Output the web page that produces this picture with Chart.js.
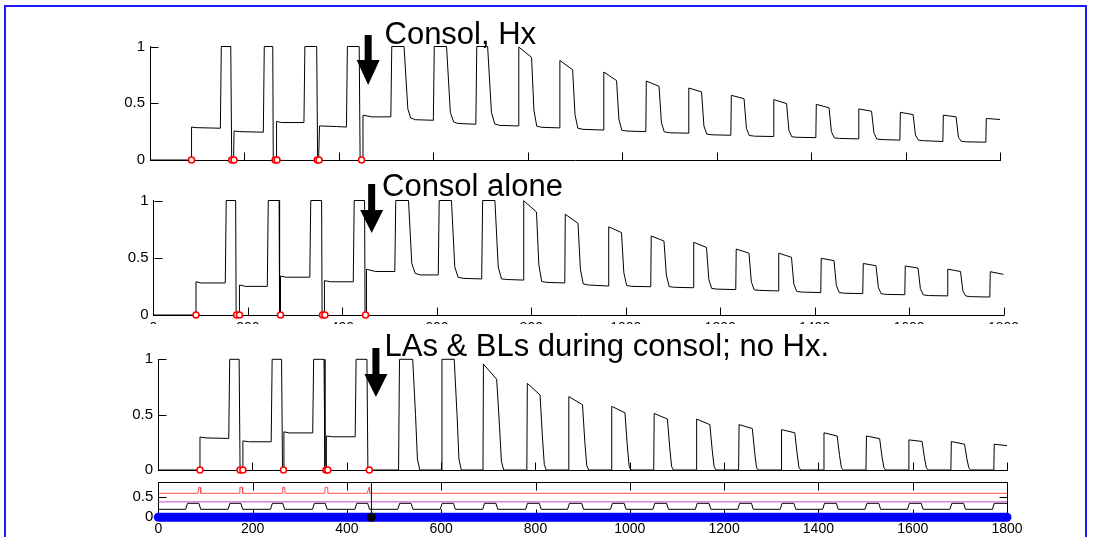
<!DOCTYPE html>
<html>
<head>
<meta charset="utf-8" />
<title>Consolidation traces</title>
<script src="https://cdn.jsdelivr.net/npm/chart.js@4.4.1/dist/chart.umd.min.js"></script>
<style>
  html, body { margin: 0; padding: 0; background: #fff; }
  body { width: 1103px; height: 537px; position: relative; overflow: hidden; font-family: "Liberation Sans", Arial, sans-serif; }
  .frame { position: absolute; left: 4px; top: 5px; width: 1083px; height: 600px; border: 2px solid #1c1cff; box-sizing: border-box; }
  .panel { position: absolute; overflow: hidden; }
  .panel canvas { position: absolute; left: 0; top: 0; }
  .title { position: absolute; font-size: 31px; line-height: 31px; color: #000; white-space: nowrap; }
</style>
</head>
<body>
<div class="frame"></div>
<div class="panel" style="left:80px;top:10px;width:950px;height:175px"><canvas id="c1" width="950" height="175"></canvas></div>
<div class="panel" style="left:80px;top:168px;width:950px;height:156px"><canvas id="c2" width="950" height="180"></canvas></div>
<div class="panel" style="left:80px;top:324px;width:950px;height:160px;background:#fff"><canvas id="c3" width="950" height="160"></canvas></div>
<div class="panel" style="left:80px;top:466px;width:950px;height:71px"><canvas id="c4" width="950" height="71"></canvas></div>
<div class="title" style="left:384.5px;top:17.8px">Consol, Hx</div>
<div class="title" style="left:382px;top:170.3px">Consol alone</div>
<div class="title" style="left:384.5px;top:330.3px">LAs &amp; BLs during consol; no Hx.</div>
<script>
// time axis ticks, shared by all four panels
const timeTicks = [0, 200, 400, 600, 800, 1000, 1200, 1400, 1600, 1800];
const traceTicks = [0, 0.5, 1];
const stimTicks = [0, 0.5];

// panel 1: consolidation with Hx
const hxTrace = [
  [0,0],[88,0],[88,0.29],[98,0.285],[149,0.28],[151,1],[171,1],[173,0],[177,0],
  [178,0.255],[190,0.25],[240,0.245],[242,1],[260,1],[261,0],[267,0],
  [268,0.34],[278,0.33],[326,0.33],[328,1],[353,1],[355,0],[357,0],
  [359,0.30],[395,0.295],[416,0.29],[418,1],[443,1],[445,0],[449,0],
  [451,0.395],[470,0.38],[510,0.38],[512,1],[538,1],[546,0.45],[552,0.37],[562,0.355],[600,0.35],
  [602,1],[628,1],[636,0.42],[643,0.335],[652,0.322],[690,0.315],
  [692,1],[715,1],[723,0.42],[730,0.318],[740,0.305],[780,0.30],
  [781,0.995],[808,0.905],[813,0.44],[819,0.298],[830,0.288],[867,0.283],
  [868,0.877],[895,0.795],[900,0.40],[906,0.28],[917,0.27],[960,0.264],
  [961,0.775],[988,0.70],[993,0.36],[999,0.262],[1010,0.255],[1050,0.25],
  [1051,0.696],[1078,0.649],[1083,0.33],[1089,0.248],[1100,0.24],[1140,0.236],
  [1141,0.634],[1168,0.60],[1173,0.30],[1179,0.228],[1190,0.222],[1230,0.218],
  [1231,0.57],[1258,0.54],[1263,0.28],[1269,0.216],[1280,0.21],[1320,0.207],
  [1321,0.532],[1348,0.497],[1353,0.26],[1359,0.205],[1370,0.2],[1410,0.197],
  [1411,0.49],[1438,0.46],[1443,0.25],[1449,0.195],[1460,0.19],[1500,0.186],
  [1501,0.45],[1528,0.43],[1533,0.24],[1539,0.185],[1550,0.18],[1588,0.175],
  [1589,0.42],[1616,0.40],[1621,0.22],[1627,0.175],[1638,0.17],[1679,0.163],
  [1680,0.395],[1707,0.38],[1712,0.2],[1718,0.165],[1729,0.16],[1770,0.157],
  [1771,0.366],[1800,0.357]
];
const hxMarks = [88, 173, 178, 265, 269, 354, 358, 448];

// panel 2: consolidation alone
const aloneTrace = [
  [0,0],[90,0],[90,0.29],[100,0.28],[152,0.28],[154,1],[174,1],[175,0],[182,0],
  [182,0.262],[195,0.25],[241,0.25],[243,1],[266,1],[267,0],[269,0],
  [269,0.34],[280,0.33],[331,0.33],[333,1],[356,1],[357,0],[362,0],
  [362,0.30],[375,0.29],[423,0.29],[425,1],[447,1],[448,0],[451,0],
  [451,0.40],[470,0.38],[511,0.38],[513,1],[540,1],[547,0.45],[554,0.364],[565,0.35],[603,0.35],
  [605,1],[631,1],[638,0.42],[645,0.33],[656,0.32],[695,0.315],
  [697,1],[723,1],[730,0.42],[737,0.315],[748,0.31],[783,0.305],
  [784,0.998],[811,0.90],[816,0.44],[822,0.293],[833,0.285],[871,0.28],
  [872,0.88],[899,0.80],[904,0.40],[910,0.272],[921,0.262],[963,0.253],
  [964,0.77],[991,0.72],[996,0.37],[1002,0.258],[1013,0.25],[1053,0.247],
  [1054,0.69],[1081,0.646],[1086,0.35],[1092,0.248],[1103,0.242],[1143,0.238],
  [1144,0.635],[1171,0.59],[1176,0.31],[1182,0.232],[1193,0.226],[1233,0.222],
  [1234,0.576],[1261,0.54],[1266,0.29],[1272,0.22],[1283,0.215],[1323,0.21],
  [1324,0.54],[1351,0.504],[1356,0.27],[1362,0.207],[1373,0.2],[1413,0.196],
  [1414,0.495],[1441,0.475],[1446,0.26],[1452,0.196],[1463,0.19],[1502,0.187],
  [1503,0.45],[1530,0.43],[1535,0.24],[1541,0.186],[1552,0.18],[1591,0.177],
  [1592,0.428],[1619,0.41],[1624,0.23],[1630,0.176],[1641,0.17],[1681,0.167],
  [1682,0.40],[1709,0.38],[1714,0.21],[1720,0.166],[1731,0.16],[1771,0.157],
  [1772,0.378],[1800,0.355]
];
const aloneMarks = [90, 176, 182, 269, 358, 363, 449];

// panel 3: LAs & BLs during consolidation, no Hx
const lasTrace = [
  [0,0],[89,0],[89,0.298],[100,0.29],[150,0.285],[152,1],[172,1],[174,0],[180,0],
  [180,0.263],[192,0.255],[240,0.255],[242,1],[262,1],[264,0],[267,0],
  [267,0.345],[278,0.335],[328,0.335],[330,1],[352,1],[354,0],[357,0],
  [357,0.307],[370,0.30],[418,0.30],[420,1],[443,1],[445,0],[510,0],
  [512,1],[540,1],[546,0.5],[550,0.1],[555,0],[600,0],
  [602,1],[628,1],[634,0.5],[638,0.1],[643,0],[689,0],
  [690,0.956],[718,0.82],[724,0.4],[728,0.08],[733,0],[782,0],
  [783,0.783],[810,0.678],[815,0.3],[819,0.05],[823,0],[870,0],
  [871,0.663],[900,0.59],[905,0.25],[909,0.04],[913,0],[961,0],
  [962,0.575],[990,0.517],[995,0.22],[999,0.03],[1003,0],[1051,0],
  [1052,0.511],[1080,0.46],[1085,0.2],[1089,0.03],[1093,0],[1141,0],
  [1142,0.46],[1170,0.41],[1175,0.18],[1179,0.03],[1183,0],[1231,0],
  [1232,0.41],[1260,0.374],[1265,0.16],[1269,0.02],[1273,0],[1321,0],
  [1322,0.365],[1350,0.336],[1355,0.15],[1359,0.02],[1363,0],[1411,0],
  [1412,0.336],[1440,0.307],[1445,0.13],[1449,0.02],[1453,0],[1501,0],
  [1502,0.307],[1530,0.283],[1535,0.12],[1539,0.02],[1543,0],[1591,0],
  [1592,0.272],[1620,0.258],[1625,0.11],[1629,0.02],[1633,0],[1681,0],
  [1682,0.257],[1710,0.233],[1715,0.1],[1719,0.02],[1723,0],[1772,0],
  [1773,0.233],[1800,0.22]
];
const lasMarks = [89, 174, 180, 266, 356, 360, 448];

// panel 4: stimulus channels
const pulseTrace = [
  [0,0.6],[84,0.6],[86,0.75],[89,0.75],[90,0.6],[172,0.6],[173,0.75],[178,0.75],[179,0.6],
  [263,0.6],[264,0.75],[268,0.75],[269,0.6],[353,0.6],[354,0.75],[359,0.75],[360,0.6],
  [443,0.6],[447,0.75],[448,0.6],[1800,0.6]
];
const levelTrace = [[0,0.385],[1800,0.385]];
const csTrace = [
  [0,0.2],[58,0.2],[62,0.35],[86,0.35],[90,0.2],[148,0.2],[152,0.35],[175,0.35],[179,0.2],
  [238,0.2],[242,0.35],[264,0.35],[268,0.2],[327,0.2],[331,0.35],[354,0.35],[358,0.2],
  [417,0.2],[421,0.35],[444,0.35],[448,0.2],[508,0.2],[512,0.35],[536,0.35],[540,0.2],
  [598,0.2],[602,0.35],[626,0.35],[630,0.2],[688,0.2],[692,0.35],[716,0.35],[720,0.2],
  [779,0.2],[783,0.35],[808,0.35],[812,0.2],[868,0.2],[872,0.35],[898,0.35],[902,0.2],
  [959,0.2],[963,0.35],[988,0.35],[992,0.2],[1049,0.2],[1053,0.35],[1078,0.35],[1082,0.2],
  [1139,0.2],[1143,0.35],[1168,0.35],[1172,0.2],[1229,0.2],[1233,0.35],[1258,0.35],[1262,0.2],
  [1319,0.2],[1323,0.35],[1348,0.35],[1352,0.2],[1409,0.2],[1413,0.35],[1438,0.35],[1442,0.2],
  [1499,0.2],[1503,0.35],[1528,0.35],[1532,0.2],[1589,0.2],[1593,0.35],[1618,0.35],[1622,0.2],
  [1679,0.2],[1683,0.35],[1708,0.35],[1712,0.2],[1769,0.2],[1773,0.35],[1800,0.35]
];
const baseTrace = [[0,0],[1800,0]];
const cursorTime = 452;
const consolTime = 462;

const FONT = '"Liberation Sans", Arial, sans-serif';

// inward MATLAB-style ticks, optional full box and the down arrow
const axisMarks = {
  id: 'axisMarks',
  beforeDatasetsDraw(chart, args, o) {
    const { ctx, chartArea: a } = chart;
    const sx = chart.scales.x, sy = chart.scales.y;
    const L = Math.round(a.left) + 0.5, R = Math.round(a.right) + 0.5;
    const T = Math.round(a.top) + 0.5, B = Math.round(a.bottom) + 0.5;
    ctx.save();
    ctx.strokeStyle = '#000';
    ctx.lineWidth = 1;
    ctx.beginPath();
    for (const v of timeTicks) {
      if (v === 0) continue;
      const px = Math.round(sx.getPixelForValue(v)) + 0.5;
      ctx.moveTo(px, B); ctx.lineTo(px, B - o.len);
      if (o.box) { ctx.moveTo(px, T); ctx.lineTo(px, T + o.len); }
    }
    for (const v of o.yTicks) {
      if (v === 0) continue;
      const py = Math.round(sy.getPixelForValue(v)) + 0.5;
      ctx.moveTo(L, py); ctx.lineTo(L + o.len, py);
      if (o.box) { ctx.moveTo(R, py); ctx.lineTo(R - o.len, py); }
    }
    if (o.box) ctx.rect(L, T, R - L, B - T);
    ctx.stroke();
    ctx.restore();
  },
  afterDraw(chart, args, o) {
    if (!o.arrow) return;
    const { ctx } = chart;
    const cx = chart.scales.x.getPixelForValue(o.arrow.at);
    const [y0, y1, y2] = o.arrow.y;
    ctx.save();
    ctx.fillStyle = '#000';
    ctx.beginPath();
    ctx.moveTo(cx - 3.5, y0);
    ctx.lineTo(cx + 3.5, y0);
    ctx.lineTo(cx + 3.5, y1);
    ctx.lineTo(cx + 11.5, y1);
    ctx.lineTo(cx, y2);
    ctx.lineTo(cx - 11.5, y1);
    ctx.lineTo(cx - 3.5, y1);
    ctx.closePath();
    ctx.fill();
    ctx.restore();
  }
};

function line(data, color, width) {
  return { data, showLine: true, borderColor: color, borderWidth: width || 1,
           pointRadius: 0, tension: 0, clip: false };
}
function rings(times) {
  return { data: times.map(t => [t, 0]), showLine: false, pointRadius: 3,
           pointBorderWidth: 1.6, pointBorderColor: '#ff0000', pointBackgroundColor: '#fff', clip: false };
}

function panel(id, cfg) {
  return new Chart(document.getElementById(id), {
    type: 'scatter',
    data: { datasets: cfg.datasets },
    options: {
      responsive: false,
      animation: false,
      devicePixelRatio: 1,
      layout: { padding: cfg.pad },
      plugins: { legend: { display: false }, tooltip: { enabled: false }, axisMarks: cfg.marks },
      scales: {
        x: {
          type: 'linear', min: 0, max: 1800,
          afterBuildTicks: s => { s.ticks = timeTicks.map(v => ({ value: v })); },
          afterFit: s => { s.height = cfg.xh; },
          grid: { display: false, drawTicks: false },
          border: { display: true, color: '#000', width: 1 },
          ticks: { display: cfg.xLabels, padding: cfg.xPad, maxRotation: 0, autoSkip: false,
                   color: '#000', font: { family: FONT, size: 14 }, callback: v => String(v) }
        },
        y: {
          type: 'linear', min: 0, max: cfg.ymax,
          afterBuildTicks: s => { s.ticks = cfg.yTicks.map(v => ({ value: v })); },
          afterFit: s => { s.width = cfg.yw; },
          grid: { display: false, drawTicks: false },
          border: { display: true, color: '#000', width: 1 },
          ticks: { padding: 5, color: '#000', font: { family: FONT, size: 15 }, callback: v => String(v) }
        }
      }
    },
    plugins: [axisMarks]
  });
}

panel('c1', {
  datasets: [rings(hxMarks), line(hxTrace, '#000')],
  pad: { left: 0, top: 36.5, right: 30, bottom: 0 }, yw: 70, xh: 25,
  ymax: 1, yTicks: traceTicks, xLabels: false, xPad: 3,
  marks: { len: 8, yTicks: traceTicks, arrow: { at: consolTime, y: [25, 50, 75] } }
});

// its time labels sit mostly under the next panel, only their tops show
panel('c2', {
  datasets: [rings(aloneMarks), line(aloneTrace, '#000')],
  pad: { left: 0, top: 32.5, right: 26.5, bottom: 0 }, yw: 73.5, xh: 33,
  ymax: 1, yTicks: traceTicks, xLabels: true, xPad: 4.5,
  marks: { len: 8, yTicks: traceTicks, arrow: { at: consolTime, y: [16, 42, 65] } }
});

panel('c3', {
  datasets: [rings(lasMarks), line(lasTrace, '#000')],
  pad: { left: 0, top: 35.3, right: 23, bottom: 0 }, yw: 78, xh: 10.7,
  ymax: 1, yTicks: traceTicks, xLabels: false, xPad: 3,
  marks: { len: 8, yTicks: traceTicks, arrow: { at: consolTime, y: [24, 50, 73] } }
});

panel('c4', {
  datasets: [
    { data: [[cursorTime, 0]], showLine: false, pointRadius: 4.5, pointBorderWidth: 0,
      pointBackgroundColor: '#000', clip: false },
    Object.assign(line(baseTrace, '#0000ff', 9), { borderCapStyle: 'round' }),
    line([[cursorTime, 0], [cursorTime, 0.875]], '#000'),
    line(pulseTrace, '#ff4d4d'),
    line(levelTrace, '#cc44cc'),
    line(csTrace, '#000')
  ],
  pad: { left: 0, top: 16.3, right: 23, bottom: 0 }, yw: 78.3, xh: 19.7,
  ymax: 0.875, yTicks: stimTicks, xLabels: true, xPad: 3,
  marks: { len: 8, yTicks: stimTicks, box: true }
});
</script>
</body>
</html>
